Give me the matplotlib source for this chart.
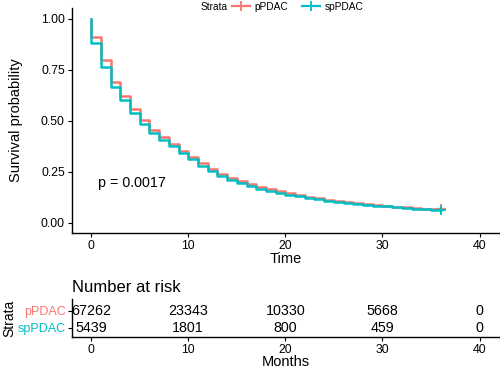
import numpy as np
import matplotlib
matplotlib.use("Agg")
import matplotlib.pyplot as plt
from matplotlib.lines import Line2D

plt.rcParams['font.family'] = ['Liberation Sans', 'DejaVu Sans']

# ---- data ----
months = list(range(0, 37))
surv_pPDAC = [0.909, 0.797, 0.691, 0.618, 0.556, 0.502, 0.456, 0.418, 0.385, 0.350,
              0.321, 0.292, 0.264, 0.240, 0.220, 0.204, 0.190, 0.176, 0.164, 0.153,
              0.143, 0.134, 0.126, 0.119, 0.112, 0.106, 0.100, 0.095, 0.090, 0.086,
              0.082, 0.078, 0.075, 0.072, 0.069, 0.066, 0.066]
surv_spPDAC = [0.879, 0.760, 0.666, 0.602, 0.539, 0.485, 0.439, 0.406, 0.373, 0.340,
               0.310, 0.279, 0.251, 0.228, 0.208, 0.193, 0.180, 0.167, 0.156, 0.145,
               0.136, 0.128, 0.121, 0.114, 0.108, 0.102, 0.097, 0.092, 0.087, 0.083,
               0.079, 0.075, 0.072, 0.069, 0.066, 0.064, 0.064]
strata = ['pPDAC', 'spPDAC']
colors = ['#F8766D', '#00BFC4']
risk_times = [0, 10, 20, 30, 40]
risk_pPDAC = [67262, 23343, 10330, 5668, 0]
risk_spPDAC = [5439, 1801, 800, 459, 0]
pval_text = 'p = 0.0017'
x_ticks = [0, 10, 20, 30, 40]
y_ticks = [0.0, 0.25, 0.5, 0.75, 1.0]

W, H = 500, 370
fig = plt.figure(figsize=(5, 3.7), dpi=100)

def fx(px):
    return px / W

def fy(py):
    return 1 - py / H

# ---- main KM axes ----
left, right = 71.7, 499
top, bottom = 8.3, 232.8
ax = fig.add_axes([fx(left), fy(bottom), fx(right - left), (bottom - top) / H])
handles = []
for s, surv, c in zip(strata, [surv_pPDAC, surv_spPDAC], colors):
    t = [0] + months
    v = [1.0] + surv
    ax.step(t, v, where='post', color=c, lw=1.8)
    ax.plot([months[-1]], [surv[-1]], marker='+', color=c, ms=7, mew=1.3, ls='none')
    handles.append(Line2D([], [], color=c, lw=1.6, marker='+', ms=7, mew=1.3))
ax.set_xlim(-2, 42)
ax.set_ylim(-0.05, 1.05)
ax.set_xticks(x_ticks)
ax.set_yticks(y_ticks)
ax.set_yticklabels([f'{v:.2f}' for v in y_ticks])
for sp in ['top', 'right']:
    ax.spines[sp].set_visible(False)
for sp in ['left', 'bottom']:
    ax.spines[sp].set_linewidth(1.0)
ax.tick_params(axis='both', labelsize=8.8, length=3, width=0.8, colors='black', pad=2)
ax.set_xlabel('Time', fontsize=10.5, labelpad=0)
ax.set_ylabel('Survival probability', fontsize=10.5, labelpad=13)
ax.text(0.72, 0.196, pval_text, fontsize=10.3, va='center', ha='left')

# legend on top
fig.text(fx(201), fy(6.5), 'Strata', fontsize=7.3, va='center', ha='left')
fig.legend(handles, strata, loc='center left', bbox_to_anchor=(fx(232), fy(6.5)),
           ncol=2, frameon=False, fontsize=7.3, handlelength=1.8, handletextpad=0.4,
           columnspacing=1.4, borderpad=0, borderaxespad=0)

# ---- risk table ----
rt_top, rt_bottom = 299, 337.3
ax2 = fig.add_axes([fx(left), fy(rt_bottom), fx(right - left), (rt_bottom - rt_top) / H])
rows = [1, 0]
for r, vals in zip(rows, [risk_pPDAC, risk_spPDAC]):
    for t, n in zip(risk_times, vals):
        ax2.text(t, r, str(n), ha='center', va='center', fontsize=10.3)
ax2.set_xlim(-2, 42)
ax2.set_ylim(-0.565, 1.69)
ax2.set_xticks(x_ticks)
ax2.set_yticks(rows)
ax2.set_yticklabels(strata)
for sp in ['top', 'right']:
    ax2.spines[sp].set_visible(False)
for sp in ['left', 'bottom']:
    ax2.spines[sp].set_linewidth(1.0)
ax2.tick_params(axis='both', length=3, width=0.8, colors='black', pad=2)
ax2.tick_params(axis='x', labelsize=8.8)
ax2.tick_params(axis='y', labelsize=9.0, pad=1.5)
for lab, c in zip(ax2.get_yticklabels(), colors):
    lab.set_color(c)
ax2.set_xlabel('Months', fontsize=10.5, labelpad=-1)
ax2.set_ylabel('Strata', fontsize=10.0, labelpad=1)
ax2.set_title('Number at risk', loc='left', fontsize=12, pad=5)

fig.savefig('out.png', dpi=100)
